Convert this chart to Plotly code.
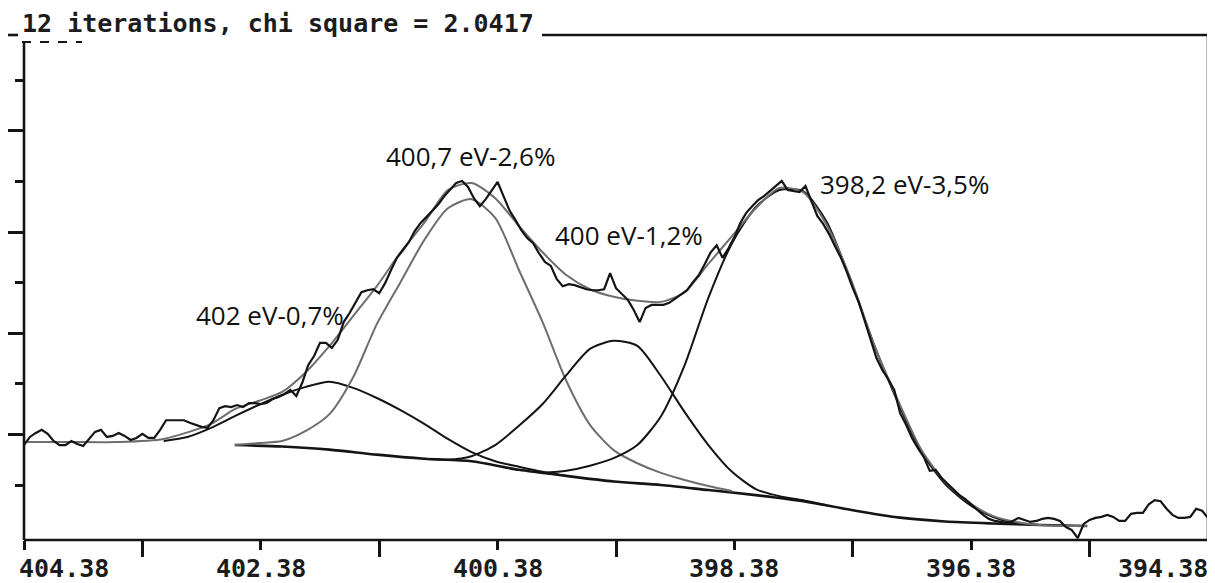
import plotly.graph_objects as go

# ---------------- data ----------------
RAW_E = [
    404.38, 404.33, 404.28, 404.23, 404.18, 404.13, 404.08, 404.03, 403.98, 403.93,
    403.88, 403.83, 403.78, 403.73, 403.68, 403.63, 403.58, 403.53, 403.48, 403.43,
    403.38, 403.33, 403.28, 403.23, 403.18, 403.13, 403.08, 403.03, 402.98, 402.93,
    402.88, 402.83, 402.78, 402.73, 402.68, 402.63, 402.58, 402.53, 402.48, 402.43,
    402.38, 402.33, 402.28, 402.23, 402.18, 402.13, 402.08, 402.03, 401.98, 401.93,
    401.88, 401.83, 401.78, 401.73, 401.68, 401.63, 401.58, 401.53, 401.48, 401.43,
    401.38, 401.33, 401.28, 401.23, 401.18, 401.13, 401.08, 401.03, 400.98, 400.93,
    400.88, 400.83, 400.78, 400.73, 400.68, 400.63, 400.58, 400.53, 400.48, 400.43,
    400.38, 400.33, 400.28, 400.23, 400.18, 400.13, 400.08, 400.03, 399.98, 399.93,
    399.88, 399.83, 399.78, 399.73, 399.68, 399.63, 399.58, 399.53, 399.48, 399.43,
    399.38, 399.33, 399.28, 399.23, 399.18, 399.13, 399.08, 399.03, 398.98, 398.93,
    398.88, 398.83, 398.78, 398.73, 398.68, 398.63, 398.58, 398.53, 398.48, 398.43,
    398.38, 398.33, 398.28, 398.23, 398.18, 398.13, 398.08, 398.03, 397.98, 397.93,
    397.88, 397.83, 397.78, 397.73, 397.68, 397.63, 397.58, 397.53, 397.48, 397.43,
    397.38, 397.33, 397.28, 397.23, 397.18, 397.13, 397.08, 397.03, 396.98, 396.93,
    396.88, 396.83, 396.78, 396.73, 396.68, 396.63, 396.58, 396.53, 396.48, 396.43,
    396.38, 396.33, 396.28, 396.23, 396.18, 396.13, 396.08, 396.03, 395.98, 395.93,
    395.88, 395.83, 395.78, 395.73, 395.68, 395.63, 395.58, 395.53, 395.48, 395.43,
    395.38, 395.33, 395.28, 395.23, 395.18, 395.13, 395.08, 395.03, 394.98, 394.93,
    394.88, 394.83, 394.78, 394.73, 394.68, 394.63, 394.58, 394.53, 394.48, 394.43,
    394.38,
]
RAW_I = [
    1.79, 1.95, 2.03, 2.09, 2.01, 1.87, 1.79, 1.79, 1.87, 1.81,
    1.77, 1.91, 2.05, 2.09, 1.95, 1.97, 2.03, 1.97, 1.89, 1.93,
    2.01, 1.93, 1.93, 2.09, 2.28, 2.28, 2.28, 2.28, 2.23, 2.19,
    2.15, 2.13, 2.28, 2.52, 2.56, 2.54, 2.58, 2.54, 2.62, 2.62,
    2.60, 2.62, 2.70, 2.74, 2.80, 2.88, 2.76, 3.02, 3.37, 3.55,
    3.81, 3.81, 3.71, 3.87, 4.22, 4.40, 4.62, 4.81, 4.85, 4.87,
    4.79, 4.99, 5.25, 5.49, 5.64, 5.80, 6.02, 6.18, 6.30, 6.43,
    6.55, 6.71, 6.83, 6.97, 7.01, 6.89, 6.67, 6.51, 6.65, 6.83,
    6.99, 6.71, 6.43, 6.24, 6.04, 5.88, 5.78, 5.58, 5.41, 5.33,
    5.07, 4.93, 4.97, 4.95, 4.91, 4.87, 4.85, 4.85, 4.87, 5.19,
    4.89, 4.77, 4.66, 4.46, 4.22, 4.50, 4.56, 4.56, 4.56, 4.60,
    4.68, 4.77, 4.85, 5.01, 5.15, 5.37, 5.60, 5.74, 5.49, 5.68,
    5.90, 6.18, 6.38, 6.51, 6.63, 6.71, 6.81, 6.91, 7.01, 6.83,
    6.81, 6.79, 6.91, 6.63, 6.32, 6.16, 5.96, 5.72, 5.49, 5.21,
    4.89, 4.62, 4.26, 3.89, 3.51, 3.27, 3.09, 2.88, 2.42, 2.19,
    1.93, 1.73, 1.55, 1.28, 1.30, 1.14, 1.02, 0.90, 0.80, 0.72,
    0.62, 0.51, 0.41, 0.33, 0.29, 0.27, 0.25, 0.29, 0.35, 0.31,
    0.27, 0.29, 0.33, 0.35, 0.33, 0.29, 0.17, 0.11, -0.05, 0.23,
    0.31, 0.35, 0.37, 0.41, 0.37, 0.29, 0.29, 0.43, 0.45, 0.45,
    0.62, 0.70, 0.68, 0.53, 0.41, 0.35, 0.35, 0.37, 0.53, 0.49,
    0.35,
]

ENV_E = [404.38, 404.0, 403.6, 403.2, 402.8, 402.6, 402.4, 402.2, 402.0, 401.8,
         401.6, 401.4, 401.2, 401.0, 400.8, 400.6, 400.4, 400.2, 400.0, 399.8,
         399.6, 399.4, 399.2, 399.0, 398.8, 398.6, 398.4, 398.2, 398.0, 397.8,
         397.6, 397.4, 397.2, 397.0, 396.8, 396.6, 396.4, 396.2, 396.0, 395.8,
         395.6, 395.4]
ENV_I = [1.85, 1.85, 1.85, 1.91, 2.21, 2.50, 2.66, 2.84, 3.23, 3.75,
         4.34, 4.93, 5.60, 6.18, 6.83, 6.97, 6.67, 6.12, 5.60, 5.15,
         4.87, 4.72, 4.64, 4.62, 4.81, 5.37, 5.92, 6.47, 6.87, 6.79,
         6.14, 5.09, 3.77, 2.68, 1.69, 1.06, 0.66, 0.39, 0.27, 0.21,
         0.19, 0.19]

BG_E = [402.6, 402.2, 401.8, 401.4, 401.0, 400.6, 400.2, 399.8, 399.4, 399.0,
        398.6, 398.2, 397.8, 397.4, 397.0, 396.6, 396.2, 395.8, 395.4]
BG_I = [1.79, 1.76, 1.70, 1.60, 1.52, 1.47, 1.30, 1.18, 1.07, 1.00,
        0.90, 0.80, 0.68, 0.51, 0.36, 0.28, 0.24, 0.21, 0.19]

P402_E = [403.2, 403.0, 402.8, 402.6, 402.4, 402.2, 402.0, 401.8, 401.6, 401.4,
          401.2, 401.0, 400.8, 400.6, 400.4, 400.2, 400.0, 399.8]
P402_I = [1.87, 1.95, 2.13, 2.36, 2.58, 2.78, 2.94, 3.04, 2.92, 2.72,
          2.48, 2.21, 1.91, 1.65, 1.47, 1.36, 1.26, 1.18]

P4007_E = [402.6, 402.4, 402.2, 402.0, 401.8, 401.6, 401.4, 401.2, 401.0, 400.8,
           400.6, 400.4, 400.2, 400.0, 399.8, 399.6, 399.4, 399.2, 399.0, 398.8,
           398.6, 398.4]
P4007_I = [1.79, 1.83, 1.87, 2.07, 2.40, 3.13, 4.18, 5.01, 5.84, 6.47,
           6.65, 6.28, 5.25, 4.22, 3.06, 2.19, 1.69, 1.43, 1.24, 1.10,
           0.98, 0.88]

P400_E = [401.0, 400.8, 400.6, 400.4, 400.2, 400.0, 399.8, 399.6, 399.4, 399.2,
          399.0, 398.8, 398.6, 398.4, 398.2, 398.0, 397.8, 397.6]
P400_I = [1.52, 1.50, 1.57, 1.79, 2.17, 2.60, 3.17, 3.69, 3.85, 3.75,
          3.15, 2.44, 1.79, 1.26, 0.92, 0.78, 0.70, 0.60]

P398_E = [400.0, 399.8, 399.6, 399.4, 399.2, 399.0, 398.8, 398.6, 398.4, 398.2,
          398.0, 397.8, 397.6, 397.4, 397.2, 397.0, 396.8, 396.6, 396.4, 396.2,
          396.0, 395.8]
P398_I = [1.24, 1.28, 1.38, 1.53, 1.79, 2.36, 3.37, 4.70, 5.78, 6.49,
          6.83, 6.81, 6.20, 5.05, 3.77, 2.64, 1.65, 1.02, 0.62, 0.37,
          0.25, 0.21]

PEAK_LABELS = ["402 eV-0,7%", "400,7 eV-2,6%", "400 eV-1,2%", "398,2 eV-3,5%"]
PEAK_LABEL_E = [402.30, 400.605, 399.27, 396.94]
PEAK_LABEL_I = [4.36, 7.50, 5.94, 6.95]

X_TICK_VALS = [404.38, 402.38, 400.38, 398.38, 396.38, 394.38]
X_TICK_TEXT = ["404.38", "402.38", "400.38", "398.38", "396.38", "394.38"]
X_MINOR_VALS = [403.38, 401.38, 399.38, 397.38, 395.38]
Y_MAJOR_VALS = [2, 4, 6, 8]
Y_MINOR_VALS = [1, 3, 5, 7, 9]

TITLE = "12 iterations, chi square = 2.0417"

# ---------------- figure ----------------
BLACK = "#141414"
GRAY = "#6e6e6e"
fig = go.Figure()

def smooth(x, y, color, width=2.0):
    fig.add_trace(go.Scatter(x=x, y=y, mode="lines",
                             line=dict(color=color, width=width, shape="spline", smoothing=0.7),
                             hoverinfo="skip"))

smooth(BG_E, BG_I, BLACK, 2.6)
smooth(P402_E, P402_I, BLACK)
smooth(P4007_E, P4007_I, GRAY)
smooth(P400_E, P400_I, BLACK)
smooth(P398_E, P398_I, BLACK)
smooth(ENV_E, ENV_I, GRAY)
fig.add_trace(go.Scatter(x=RAW_E, y=RAW_I, mode="lines",
                         line=dict(color=BLACK, width=2.2), hoverinfo="skip"))

annotations = []
for t, xe, yi in zip(PEAK_LABELS, PEAK_LABEL_E, PEAK_LABEL_I):
    annotations.append(dict(x=xe, y=yi, xref="x", yref="y", text=t, showarrow=False,
                            font=dict(family="Open Sans", size=26, color="#111111"),
                            xanchor="center", yanchor="middle"))

mono = dict(family="DejaVu Sans Mono", size=25, color="#1c1c1c")
for i, (v, t) in enumerate(zip(X_TICK_VALS, X_TICK_TEXT)):
    if i == 0:
        anc, sh = "left", -7
    elif i == len(X_TICK_VALS) - 1:
        anc, sh = "right", 2
    else:
        anc, sh = "center", 0
    annotations.append(dict(x=v, y=-0.057, xref="x", yref="paper", text="<b>" + t + "</b>",
                            showarrow=False, font=mono, xanchor=anc, yanchor="middle", xshift=sh))

annotations.append(dict(x=0, y=1.0218, xref="paper", yref="paper", xshift=-4,
                        text="<b>" + TITLE + "</b>", showarrow=False, font=mono,
                        xanchor="left", yanchor="middle"))

LW = 2.6
shapes = [
    dict(type="line", xref="paper", yref="paper", x0=0, x1=1, y0=0, y1=0, line=dict(color=BLACK, width=LW)),
    dict(type="line", xref="paper", yref="paper", x0=1, x1=1, y0=0, y1=1, line=dict(color=BLACK, width=LW)),
    dict(type="line", xref="paper", yref="paper", x0=0.4375, x1=1, y0=1, y1=1, line=dict(color=BLACK, width=LW)),
    dict(type="line", xref="paper", yref="paper", x0=0, x1=0, y0=0, y1=0.986, line=dict(color=BLACK, width=LW)),
    dict(type="line", xref="paper", yref="paper", x0=-0.0017, x1=0.049, y0=0.986, y1=0.986,
         line=dict(color=BLACK, width=2, dash="dash")),
    dict(type="line", xref="paper", yref="paper", x0=-0.0135, x1=-0.005, y0=1, y1=1,
         line=dict(color=BLACK, width=LW)),
]

# the page body adds an 8px offset; the figure is sized so it fills the window exactly
fig.update_layout(
    width=1207, height=575,
    margin=dict(l=16, r=7, t=27, b=43, pad=0, autoexpand=False),
    paper_bgcolor="white", plot_bgcolor="white",
    showlegend=False,
    annotations=annotations,
    shapes=shapes,
    xaxis=dict(range=[404.38, 394.38], showgrid=False, zeroline=False, showline=False,
               automargin=False,
               ticks="outside", tickmode="array", tickvals=X_TICK_VALS, ticklen=9,
               tickwidth=2.5, tickcolor=BLACK, showticklabels=False,
               minor=dict(tickmode="array", tickvals=X_MINOR_VALS, ticks="outside",
                          ticklen=16, tickwidth=2.5, tickcolor=BLACK)),
    yaxis=dict(range=[-0.087, 9.895], showgrid=False, zeroline=False, showline=False,
               automargin=False,
               ticks="outside", tickmode="array", tickvals=Y_MAJOR_VALS, ticklen=15,
               tickwidth=2.5, tickcolor=BLACK, showticklabels=False,
               minor=dict(tickmode="array", tickvals=Y_MINOR_VALS, ticks="outside",
                          ticklen=8, tickwidth=2.5, tickcolor=BLACK)),
)

fig.write_html("out.html")
